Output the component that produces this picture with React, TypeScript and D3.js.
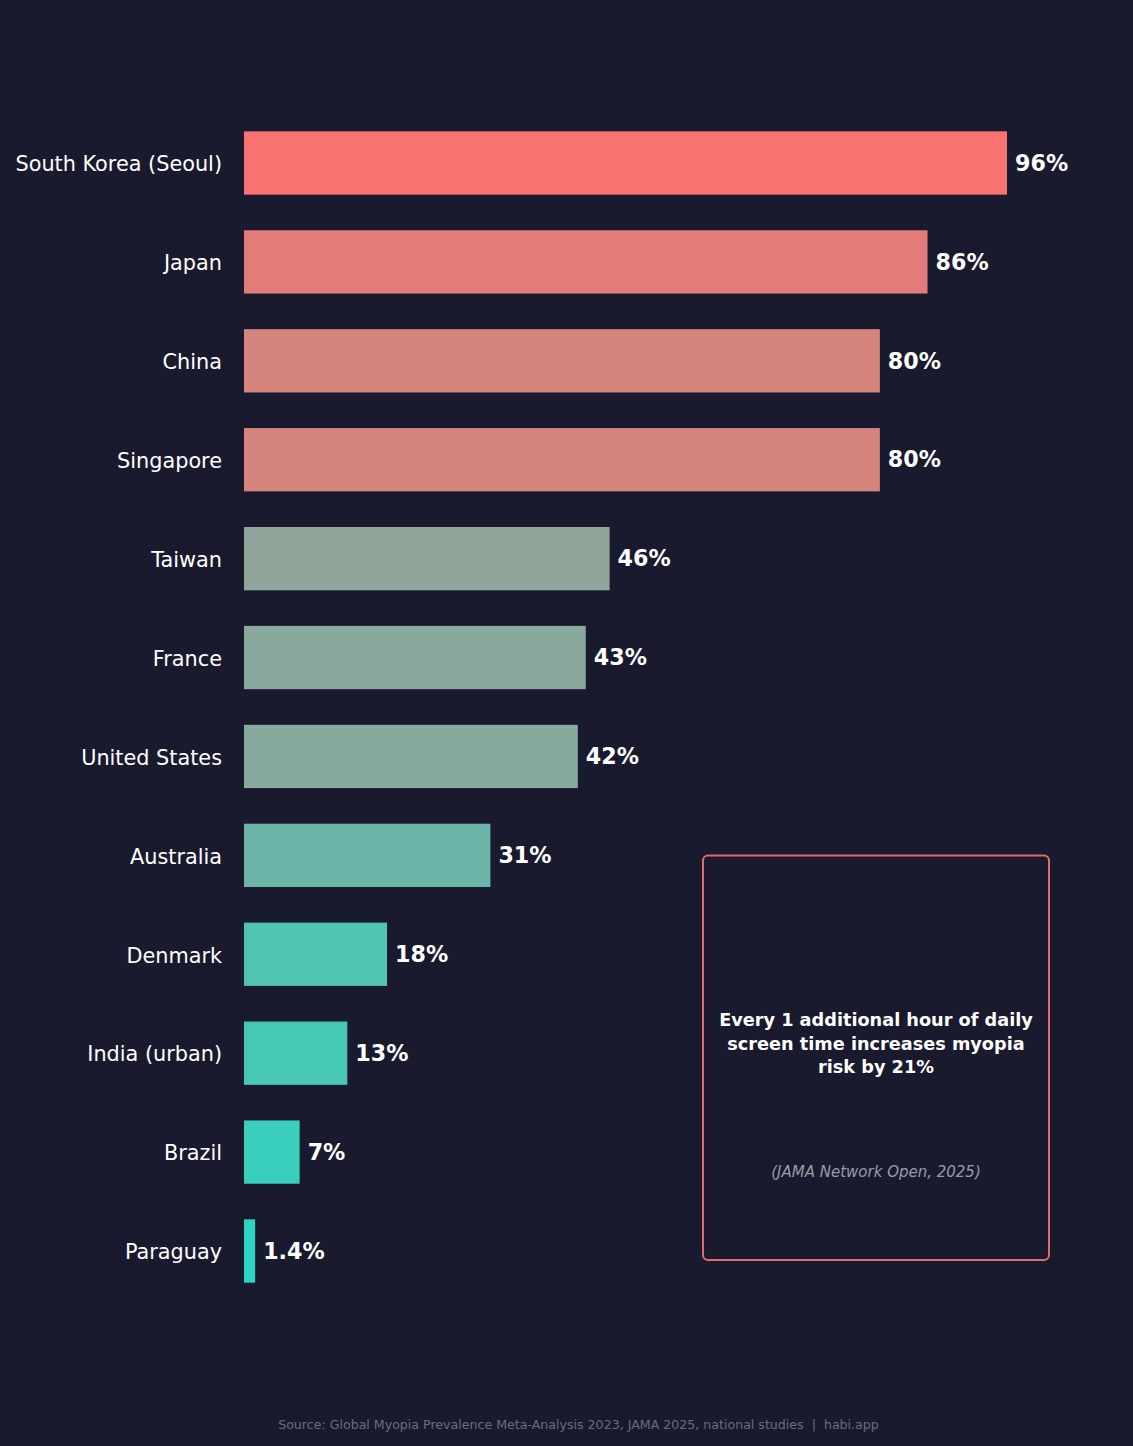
import React from "react";
import * as d3 from "d3";

const countries = [
  "South Korea (Seoul)",
  "Japan",
  "China",
  "Singapore",
  "Taiwan",
  "France",
  "United States",
  "Australia",
  "Denmark",
  "India (urban)",
  "Brazil",
  "Paraguay",
];
const prevalence = [96, 86, 80, 80, 46, 43, 42, 31, 18, 13, 7, 1.4];
const barColors = [
  "#f87272",
  "#e37c78",
  "#d6857e",
  "#d6857e",
  "#8fa59a",
  "#8aa99d",
  "#87aa9d",
  "#6db5a8",
  "#50c4b1",
  "#47c8b6",
  "#3acebd",
  "#2dd4bf",
];
const noteLines = [
  "Every 1 additional hour of daily",
  "screen time increases myopia",
  "risk by 21%",
];
const noteSource = "(JAMA Network Open, 2025)";
const sourceText =
  "Source: Global Myopia Prevalence Meta-Analysis 2023, JAMA 2025, national studies  |  habi.app";

const W = 1133;
const H = 1446;
const FONT = "'DejaVu Sans', Verdana, sans-serif";

export default function App() {
  const x = d3.scaleLinear().domain([0, 110]).range([244, 244 + 7.948 * 110]);
  const y = d3
    .scaleBand<string>()
    .domain(countries)
    .range([113.55, 1300.45])
    .paddingInner(0.36)
    .paddingOuter(0.18);
  const fmt = (v: number) => (Number.isInteger(v) ? `${v}%` : `${v.toFixed(1)}%`);

  return (
    <svg
      width={W}
      height={H}
      viewBox={`0 0 ${W} ${H}`}
      style={{ position: "absolute", left: 0, top: 0, display: "block" }}
    >
      <rect x={0} y={0} width={W} height={H} fill="#1a1a2e" />
      {countries.map((c, i) => {
        const yb = y(c)!;
        const bw = y.bandwidth();
        const cy = yb + bw / 2;
        return (
          <g key={c}>
            <rect
              x={x(0)}
              y={yb}
              width={x(prevalence[i]) - x(0)}
              height={bw}
              fill={barColors[i]}
            />
            <text
              x={222}
              y={cy + 1}
              dy="0.35em"
              textAnchor="end"
              fontFamily={FONT}
              fontSize={20.8}
              fill="#ffffff"
            >
              {c}
            </text>
            <text
              x={x(prevalence[i]) + 8}
              y={cy}
              dy="0.35em"
              fontFamily={FONT}
              fontSize={22.2}
              fontWeight="bold"
              fill="#ffffff"
            >
              {fmt(prevalence[i])}
            </text>
          </g>
        );
      })}
      <rect
        x={703}
        y={855.5}
        width={346}
        height={404.5}
        rx={5}
        fill="#1a1a2e"
        stroke="#e46b6b"
        strokeWidth={2}
      />
      {noteLines.map((l, i) => (
        <text
          key={i}
          x={876}
          y={1020 + i * 23.5}
          dy="0.35em"
          textAnchor="middle"
          fontFamily={FONT}
          fontSize={17.7}
          fontWeight="bold"
          fill="#ffffff"
        >
          {l}
        </text>
      ))}
      <text
        x={876}
        y={1172}
        dy="0.35em"
        textAnchor="middle"
        fontFamily={FONT}
        fontSize={15}
        fontStyle="italic"
        fill="#9a9aa4"
      >
        {noteSource}
      </text>
      <text
        x={578.5}
        y={1425}
        dy="0.35em"
        textAnchor="middle"
        fontFamily={FONT}
        fontSize={12.6}
        fill="#6b6b80"
        style={{ whiteSpace: "pre" }}
      >
        {sourceText}
      </text>
    </svg>
  );
}
